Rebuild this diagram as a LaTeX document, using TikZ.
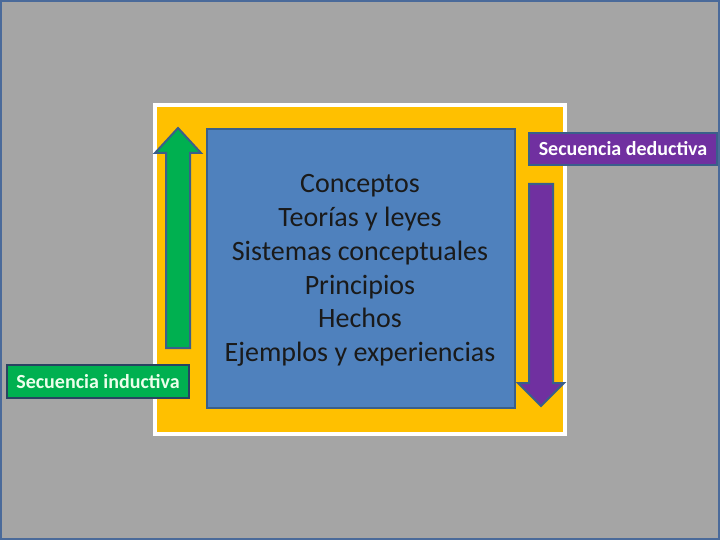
\documentclass[tikz,border=0pt]{standalone}
\usepackage{fontspec}
\setmainfont{Carlito}
\definecolor{bg}{HTML}{A5A5A5}
\definecolor{frame}{HTML}{4A6A9A}
\definecolor{yel}{HTML}{FFC000}
\definecolor{boxblue}{HTML}{4F81BD}
\definecolor{boxedge}{HTML}{3A5F8A}
\definecolor{grn}{HTML}{00B050}
\definecolor{prp}{HTML}{7030A0}
\definecolor{txt}{HTML}{1A1A1A}
\tikzset{
  px/.style={x=1pt,y=-1pt},
  arrowshape/.style={draw=boxedge,line width=2pt,line join=miter},
  tag/.style={draw=boxedge,line width=1.5pt,text=white,font=\fontsize{20}{24}\selectfont\bfseries,inner sep=0pt,anchor=north west},
}
\begin{document}
\begin{tikzpicture}[px]
\useasboundingbox (0,0) rectangle (720,540);
\fill[bg] (0,0) rectangle (720,540);
\draw[frame,line width=2pt] (1,1) rectangle (719,539);
% yellow panel with white border
\fill[white] (153,103) rectangle (567,436);
\fill[yel] (157,107) rectangle (563,432);
% central box
\node[draw=boxedge,fill=boxblue,line width=2pt,minimum width=308pt,minimum height=279pt,anchor=north west,inner sep=0pt] (box) at (206,128) {};
\node[align=center,text=txt,font=\fontsize{28}{33.7}\selectfont] (list) at (360,270.5)
  {Conceptos\\Teorías y leyes\\Sistemas conceptuales\\Principios\\Hechos\\Ejemplos y experiencias};
% green up arrow
\draw[arrowshape,fill=grn] (166,348) -- (166,153) -- (155,153) -- (178,128) -- (201,153) -- (190,153) -- (190,348) -- cycle;
\coordinate (gtip) at (178,128);
% purple down arrow
\draw[arrowshape,fill=prp] (529,184) -- (529,383) -- (518,383) -- (541,406) -- (564,383) -- (553,383) -- (553,184) -- cycle;
\coordinate (ptip) at (541,406);
% labels
\node[tag,fill=prp,minimum width=188pt,minimum height=32pt,anchor=center] (ded) at (623,149) {Secuencia deductiva};
\node[tag,fill=grn,minimum width=182pt,minimum height=33pt,anchor=center,draw=boxedge!70!black,text=white!92!green] (ind) at (98,381.5) {Secuencia inductiva};
\end{tikzpicture}
\end{document}
